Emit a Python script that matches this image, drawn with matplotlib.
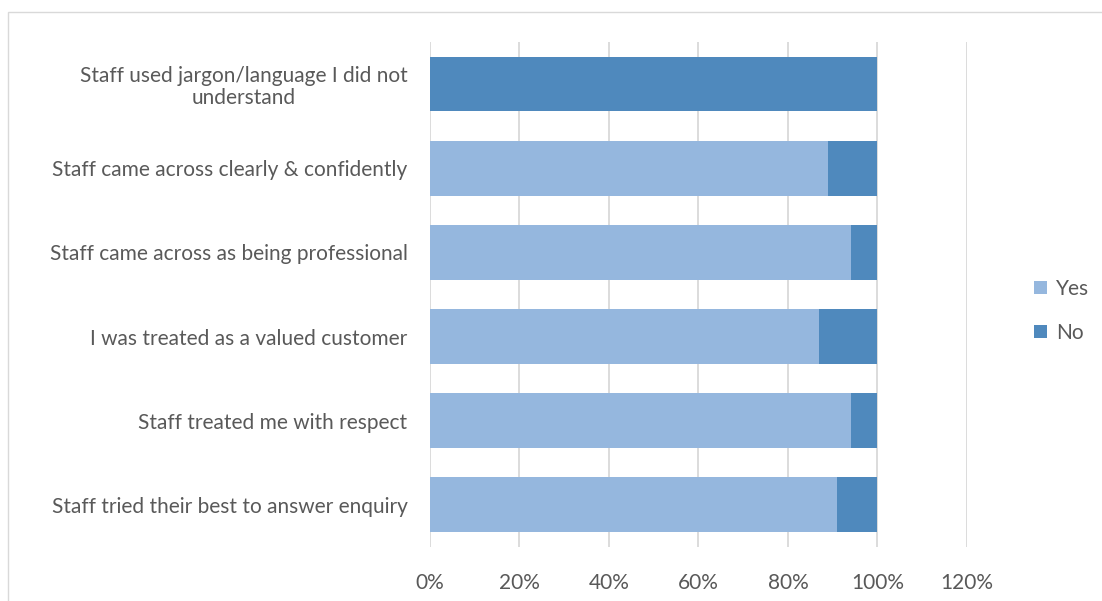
import numpy as np
import matplotlib.pyplot as plt
from matplotlib.ticker import PercentFormatter

categories = [
    "Staff used jargon/language I did not\nunderstand",
    "Staff came across clearly & confidently",
    "Staff came across as being professional",
    "I was treated as a valued customer",
    "Staff treated me with respect",
    "Staff tried their best to answer enquiry",
]
yes_pct = [0, 89, 94, 87, 94, 91]
no_pct = [100, 11, 6, 13, 6, 9]

YES_COLOR = "#95b7de"
NO_COLOR = "#4f89bd"
TEXT_COLOR = "#595959"
GRID_COLOR = "#d9d9d9"

plt.rcParams['font.family'] = ['Lato', 'DejaVu Sans']

fig = plt.figure(figsize=(11.02, 6.01), dpi=100)
ax = fig.add_axes([0.390, 0.090, 0.4875, 0.840])

y = np.arange(len(categories))
ax.barh(y, yes_pct, height=0.65, color=YES_COLOR, label="Yes", zorder=3)
ax.barh(y, no_pct, left=yes_pct, height=0.65, color=NO_COLOR, label="No", zorder=3)

ax.set_ylim(len(categories) - 0.5, -0.5)
ax.set_xlim(0, 120)
ax.set_xticks(np.arange(0, 121, 20))
ax.xaxis.set_major_formatter(PercentFormatter(decimals=0))
ax.set_yticks(y)
ax.set_yticklabels(categories, multialignment='center', linespacing=1.1)

ax.grid(axis='x', color=GRID_COLOR, linewidth=1.3, zorder=0)
for s in ax.spines.values():
    s.set_visible(False)
ax.tick_params(axis='both', length=0, colors=TEXT_COLOR, labelsize=15)
ax.tick_params(axis='y', pad=16)
ax.tick_params(axis='x', pad=19)

leg = ax.legend(loc='center left', bbox_to_anchor=(1.125, 0.467), frameon=False,
                borderpad=0, borderaxespad=0,
                handlelength=0.6, handleheight=0.6, labelspacing=1.15,
                handletextpad=0.45, fontsize=15)
for t in leg.get_texts():
    t.set_color(TEXT_COLOR)

# chart border like the spreadsheet export
fig.patches.append(plt.Rectangle((8 / 1102, -0.01), 1.1, 1 - 12 / 601 + 0.01,
                                 transform=fig.transFigure, fill=False,
                                 edgecolor=GRID_COLOR, linewidth=1))

fig.savefig("out.png", dpi=100)
